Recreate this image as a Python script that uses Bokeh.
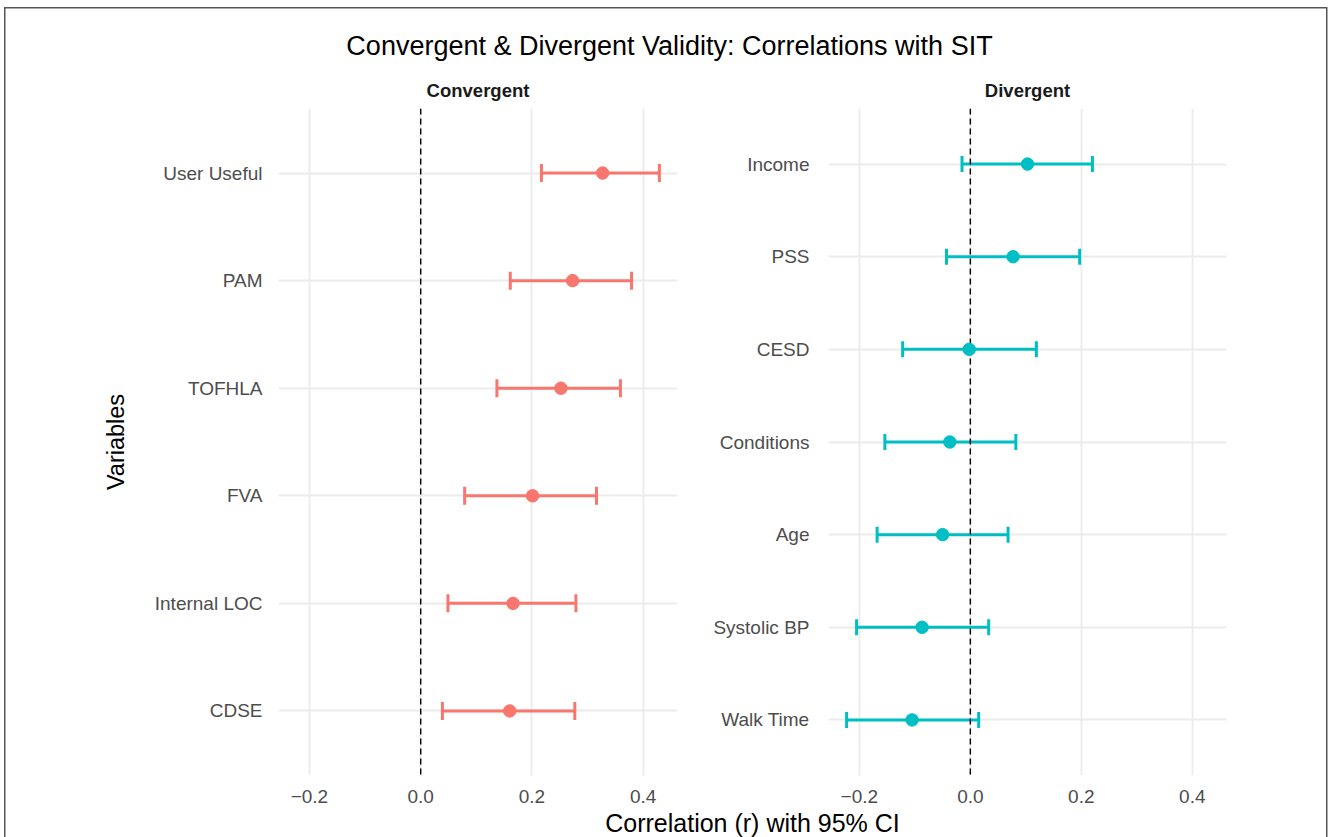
from bokeh.plotting import figure
from bokeh.layouts import column, row
from bokeh.models import (Range1d, FactorRange, ColumnDataSource, Whisker, TeeHead,
                          Span, FixedTicker, Label)
from bokeh.embed import file_html
from bokeh.resources import INLINE

# ---------------- data ----------------
conv_vars = ["User Useful", "PAM", "TOFHLA", "FVA", "Internal LOC", "CDSE"]
conv_r = [0.327, 0.273, 0.252, 0.201, 0.166, 0.160]
conv_lo = [0.217, 0.161, 0.137, 0.079, 0.049, 0.039]
conv_hi = [0.429, 0.379, 0.359, 0.316, 0.279, 0.277]

div_vars = ["Income", "PSS", "CESD", "Conditions", "Age", "Systolic BP", "Walk Time"]
div_r = [0.103, 0.077, -0.002, -0.037, -0.050, -0.087, -0.105]
div_lo = [-0.015, -0.043, -0.122, -0.154, -0.168, -0.205, -0.223]
div_hi = [0.220, 0.197, 0.119, 0.082, 0.068, 0.033, 0.015]

panel_titles = ["Convergent", "Divergent"]
x_ticks = [-0.2, 0.0, 0.2, 0.4]
x_tick_labels = ["\u22120.2", "0.0", "0.2", "0.4"]

title_text = "Convergent & Divergent Validity: Correlations with SIT"
x_label = "Correlation (r) with 95% CI"
y_label = "Variables"

# ---------------- layout constants ----------------
W, H = 1328, 837
HDR_H = 108
FRAME_H = 667
BOT = 32
FTR_H = H - HDR_H - FRAME_H - BOT
P1_LEFT, P1_FRAME_W, P1_RIGHT = 278, 399, 3
P2_LEFT, P2_FRAME_W, P2_RIGHT = 148, 398, 102
P1_W = P1_LEFT + P1_FRAME_W + P1_RIGHT
P2_W = P2_LEFT + P2_FRAME_W + P2_RIGHT

FONT = "Liberation Sans"
COL_CONV = "#F8766D"
COL_DIV = "#00BFC4"

all_lo = min(conv_lo + div_lo)
all_hi = max(conv_hi + div_hi)
pad = 0.05 * (all_hi - all_lo)
xmin, xmax = all_lo - pad, all_hi + pad


def make_panel(vars_, r, lo, hi, color, mb_left, mb_right, width, cap, ystand, ylab=None):
    p = figure(width=width, height=FRAME_H + BOT,
               x_range=Range1d(xmin, xmax),
               y_range=FactorRange(factors=list(reversed(vars_)), range_padding=0.1,
                                   range_padding_units="absolute"),
               output_backend="svg", toolbar_location=None,
               min_border_left=mb_left, min_border_right=mb_right,
               min_border_top=0, min_border_bottom=BOT)
    p.border_fill_color = None
    p.background_fill_color = "white"
    p.outline_line_color = None

    for ax in (p.xaxis[0], p.yaxis[0]):
        ax.axis_line_color = None
        ax.major_tick_line_color = None
        ax.minor_tick_line_color = None
        ax.major_label_text_font = FONT
        ax.major_label_text_font_size = "19px"
        ax.major_label_text_color = "#4D4D4D"
    p.xaxis[0].ticker = FixedTicker(ticks=x_ticks)
    p.xaxis[0].major_label_overrides = dict(zip(x_ticks, x_tick_labels))
    p.xaxis[0].major_label_standoff = 8
    p.yaxis[0].major_label_standoff = ystand
    if ylab:
        p.yaxis[0].axis_label = ylab
        p.yaxis[0].axis_label_text_font = FONT
        p.yaxis[0].axis_label_text_font_size = "23.5px"
        p.yaxis[0].axis_label_text_font_style = "normal"
        p.yaxis[0].axis_label_text_color = "black"
        p.yaxis[0].axis_label_standoff = 23

    p.xgrid.ticker = FixedTicker(ticks=x_ticks)
    for g in (p.xgrid[0], p.ygrid[0]):
        g.grid_line_color = "#EBEBEB"
        g.grid_line_width = 1.8

    src = ColumnDataSource(dict(var=vars_, r=r, lo=lo, hi=hi))
    wh = Whisker(source=src, base="var", lower="lo", upper="hi", dimension="width",
                 line_color=color, line_width=3,
                 upper_head=TeeHead(size=cap, line_color=color, line_width=3),
                 lower_head=TeeHead(size=cap, line_color=color, line_width=3))
    p.add_layout(wh)
    vline = Span(location=0, dimension="height", line_color="black",
                 line_dash="6 4", line_width=1.4, level="underlay")
    p.add_layout(vline)
    p.scatter("r", "var", source=src, size=12.5, color=color)
    return p


p1 = make_panel(conv_vars, conv_r, conv_lo, conv_hi, COL_CONV,
                P1_LEFT, P1_RIGHT, P1_W, 18, 10, ylab=y_label)
p2 = make_panel(div_vars, div_r, div_lo, div_hi, COL_DIV,
                P2_LEFT, P2_RIGHT, P2_W, 16, 13)


def blank(height):
    f = figure(width=W, height=height, x_range=Range1d(0, W), y_range=Range1d(height, 0),
               output_backend="svg", toolbar_location=None, min_border=0,
               x_axis_type=None, y_axis_type=None)
    f.grid.visible = False
    f.outline_line_color = None
    f.background_fill_color = None
    f.border_fill_color = None
    return f


hdr = blank(HDR_H)
hdr.add_layout(Label(x=669, y=45, text=title_text, text_align="center",
                     text_baseline="middle", text_font=FONT, text_font_size="27px",
                     text_color="black"))
strip_x = [P1_LEFT + P1_FRAME_W / 2, P1_W + P2_LEFT + P2_FRAME_W / 2]
for sx, st in zip(strip_x, panel_titles):
    hdr.add_layout(Label(x=sx, y=90, text=st, text_align="center", text_baseline="middle",
                         text_font=FONT, text_font_size="18.5px", text_font_style="bold",
                         text_color="#1A1A1A"))

ftr = blank(FTR_H)
ftr.add_layout(Label(x=(P1_LEFT + P1_W + P2_LEFT + P2_FRAME_W) / 2, y=FTR_H / 2,
                     text=x_label, text_align="center", text_baseline="middle",
                     text_font=FONT, text_font_size="25px", text_color="black"))

line = "linear-gradient(#555555,#555555)"
layout = column(hdr, row(p1, p2), ftr, styles={
    "background": (f"{line} 4px 7px / 1.5px 840px no-repeat, "
                   f"{line} 4px 7px / 1323px 1.5px no-repeat, "
                   f"{line} 1326px 7px / 1.5px 840px no-repeat, white")})

open("out.html", "w").write(file_html(layout, INLINE))
